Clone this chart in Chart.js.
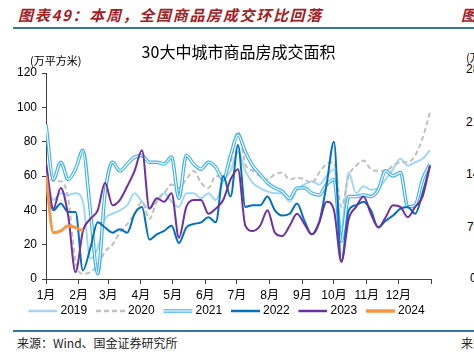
<!DOCTYPE html>
<html>
<head>
<meta charset="utf-8">
<script src="https://cdn.jsdelivr.net/npm/chart.js@4.4.1/dist/chart.umd.min.js"></script>
<style>
  body { margin: 0; width: 474px; height: 361px; overflow: hidden; background: #fff; position: relative;
         font-family: "Noto Sans CJK SC", sans-serif; }
  .head { position: absolute; top: 4px; font-size: 15px; font-weight: bold; font-style: italic;
          color: #a3201f; letter-spacing: 1.7px; white-space: nowrap; }
  .rule { position: absolute; left: 13px; right: 0; height: 2px; background: #3b73a0; }
  .src { position: absolute; top: 334px; font-size: 12px; color: #222; white-space: nowrap; }
  .frag { position: absolute; font-family: "Liberation Sans", sans-serif; font-size: 12px; color: #000; white-space: nowrap; }
  #box { position: absolute; left: 0; top: 0; width: 474px; height: 361px; }
</style>
</head>
<body>
<div class="head" style="left:18px">图表49：本周，全国商品房成交环比回落</div>
<div class="head" style="left:461px">图表50：</div>
<div class="rule" style="top:27px"></div>
<div class="rule" style="top:330px"></div>
<div class="src" style="left:17px">来源：Wind、国金证券研究所</div>
<div class="src" style="left:461px">来源：Wind</div>
<div class="frag" style="left:466px;top:49px;font-family:'Noto Sans CJK SC';font-size:11px">(万</div>
<div class="frag" style="left:466px;top:62px">280</div>
<div class="frag" style="left:466px;top:115px">210</div>
<div class="frag" style="left:466px;top:167px">140</div>
<div class="frag" style="left:467px;top:220px">70</div>
<div class="frag" style="left:470px;top:271px">0</div>
<div id="box"><canvas id="chart"></canvas></div>

<script>
// semaines de l'année (0 = 1er janvier)
const weeks = Array.from({ length: 53 }, (_, i) => i);
const monthLabels = ['1月', '2月', '3月', '4月', '5月', '6月', '7月', '8月', '9月', '10月', '11月', '12月'];
const monthDays = [0, 31, 59, 90, 120, 151, 181, 212, 243, 273, 304, 334, 365];
const years = ['2019', '2020', '2021', '2022', '2023', '2024'];

// 30大中城市商品房成交面积 (万平方米), une valeur par semaine
const s2019 = [62, 46, 50, 49, 50, 45, 12, 18, 35, 38,
               40, 43, 50, 45, 41, 46, 50, 45, 42, 50,
               50, 47, 50, 46, 57, 63, 74, 63, 56, 53,
               51, 50, 50, 45, 52, 55, 57, 55, 60, 64,
               30, 62, 50, 54, 52, 53, 58, 64, 70, 66,
               68, 70, 75];
const s2020 = [62, 57, 57, 47, 10, 3, 4, 8, 16, 20,
               27, 32, 38, 45, 35, 45, 50, 55, 53, 58,
               63, 56, 53, 60, 60, 68, 86, 67, 63, 60,
               58, 61, 62, 58, 59, 58, 56, 62, 67, 68,
               42, 60, 66, 69, 64, 63, 63, 66, 68, 68,
               72, 82, 97];
const s2021 = [90, 58, 68, 58, 64, 75, 40, 3, 50, 68,
               63, 67, 71, 72, 68, 68, 67, 71, 47, 72,
               67, 64, 68, 65, 58, 72, 84, 74, 66, 61,
               56, 53, 51, 47, 53, 53, 50, 49, 55, 58,
               22, 48, 48, 49, 48, 52, 63, 60, 62, 42,
               43, 58, 67];
const s2022 = [55, 40, 44, 39, 39, 5, 18, 33, 30, 27,
               29, 27, 38, 42, 23, 26, 28, 31, 21, 30,
               32, 33, 36, 33, 60, 48, 78, 42, 43, 43,
               48, 40, 37, 38, 44, 34, 26, 33, 55, 80,
               10, 40, 43, 45, 40, 30, 34, 37, 41, 42,
               38, 50, 66];
const s2023 = [68, 41, 53, 37, 4, 28, 35, 40, 56, 43,
               46, 54, 63, 75, 41, 47, 45, 50, 24, 42,
               46, 46, 38, 41, 46, 58, 64, 31, 28, 31,
               40, 27, 25, 31, 38, 32, 26, 33, 45, 40,
               10, 35, 42, 48, 38, 30, 36, 43, 42, 36,
               42, 48, 66];
const s2024 = [60, 27, 28, 31, 30, 28];

const colors = ['#a3d7f5', '#c0c0c0', '#40b2ea', '#0070c0', '#7030a0', '#f79646'];
const tickFont = { family: '"Liberation Sans", "Noto Sans CJK SC", sans-serif', size: 12 };

function pts(values) {
    return values.map((v, i) => ({ x: weeks[i] * 7, y: v }));
}

function serie(label, values, color, width, order, extra) {
    return Object.assign({
        label: label,
        data: pts(values),
        borderColor: color,
        borderWidth: width,
        pointRadius: 0,
        fill: false,
        cubicInterpolationMode: 'monotone',
        order: order
    }, extra || {});
}

// petits traits pour la légende (trait décalé à droite, collé au texte)
function swatch(color, width, dash, core) {
    const c = document.createElement('canvas');
    c.width = 38; c.height = 8;
    const g = c.getContext('2d');
    g.strokeStyle = color; g.lineWidth = width; g.setLineDash(dash || []);
    g.beginPath(); g.moveTo(9, 4); g.lineTo(38, 4); g.stroke();
    if (core) {
        g.strokeStyle = '#fff'; g.lineWidth = 1.2; g.setLineDash([]);
        g.beginPath(); g.moveTo(9, 4); g.lineTo(38, 4); g.stroke();
    }
    return c;
}
const swatches = [
    swatch(colors[0], 2.5),
    swatch(colors[1], 2.5, [5, 3]),
    swatch(colors[2], 3.5, null, true),
    swatch(colors[3], 2.5),
    swatch(colors[4], 2.5),
    swatch(colors[5], 3.5)
];

const unitLabel = {
    id: 'unitLabel',
    afterDraw(chart) {
        const ctx = chart.ctx;
        ctx.save();
        ctx.font = '11px "Noto Sans CJK SC"';
        ctx.fillStyle = '#000';
        ctx.textBaseline = 'middle';
        ctx.fillText('(万平方米)', 30, 61);
        ctx.restore();
    }
};

const ctx = document.getElementById('chart').getContext('2d');
new Chart(ctx, {
    type: 'line',
    data: {
        datasets: [
            serie('2019', s2019, colors[0], 2, 7),
            serie('2020', s2020, colors[1], 2, 6, { borderDash: [5, 3] }),
            serie('2021', s2021, colors[2], 3.5, 5),
            serie('', s2021, '#ffffff', 1.2, 4),
            serie('2022', s2022, colors[3], 2, 3),
            serie('2023', s2023, colors[4], 2, 2),
            serie('2024', s2024, colors[5], 3, 1)
        ]
    },
    options: {
        responsive: true,
        maintainAspectRatio: false,
        animation: false,
        layout: { padding: { top: 42, bottom: 34, left: 0, right: 27 } },
        plugins: {
            title: {
                display: true,
                text: '30大中城市商品房成交面积',
                fullSize: false,
                color: '#000',
                font: { family: '"Noto Sans CJK SC", sans-serif', size: 16, weight: 'normal' },
                padding: { top: 0, bottom: 11.8 }
            },
            legend: {
                position: 'bottom',
                labels: {
                    usePointStyle: true,
                    pointStyleWidth: 32.2,
                    padding: 2.6,
                    color: '#000',
                    font: tickFont,
                    generateLabels: () => years.map((y, i) => ({
                        text: y,
                        pointStyle: swatches[i],
                        fillStyle: 'transparent',
                        strokeStyle: 'transparent',
                        lineWidth: 0,
                        hidden: false,
                        fontColor: '#000',
                        datasetIndex: i
                    }))
                }
            },
            tooltip: { enabled: false }
        },
        scales: {
            x: {
                type: 'linear',
                min: 0,
                max: 365,
                afterBuildTicks: s => { s.ticks = monthDays.map(d => ({ value: d })); },
                afterFit: s => { s.height = 23.4; },
                ticks: {
                    autoSkip: false,
                    maxRotation: 0,
                    padding: 4,
                    color: '#000',
                    font: tickFont,
                    callback: (v, i) => monthLabels[i] || ''
                },
                grid: { drawOnChartArea: false, tickLength: 5, color: '#404040' },
                border: { color: '#404040' }
            },
            y: {
                min: 0,
                max: 120,
                afterFit: s => { s.width = 46; },
                ticks: { stepSize: 20, padding: 5, color: '#000', font: tickFont },
                grid: { drawOnChartArea: false, tickLength: 4, color: '#404040' },
                border: { color: '#404040' }
            },
            y2: {
                position: 'right',
                afterFit: s => { s.width = 16; },
                ticks: { display: false },
                grid: { display: false },
                border: { display: false }
            }
        }
    },
    plugins: [unitLabel]
});
</script>
</body>
</html>
